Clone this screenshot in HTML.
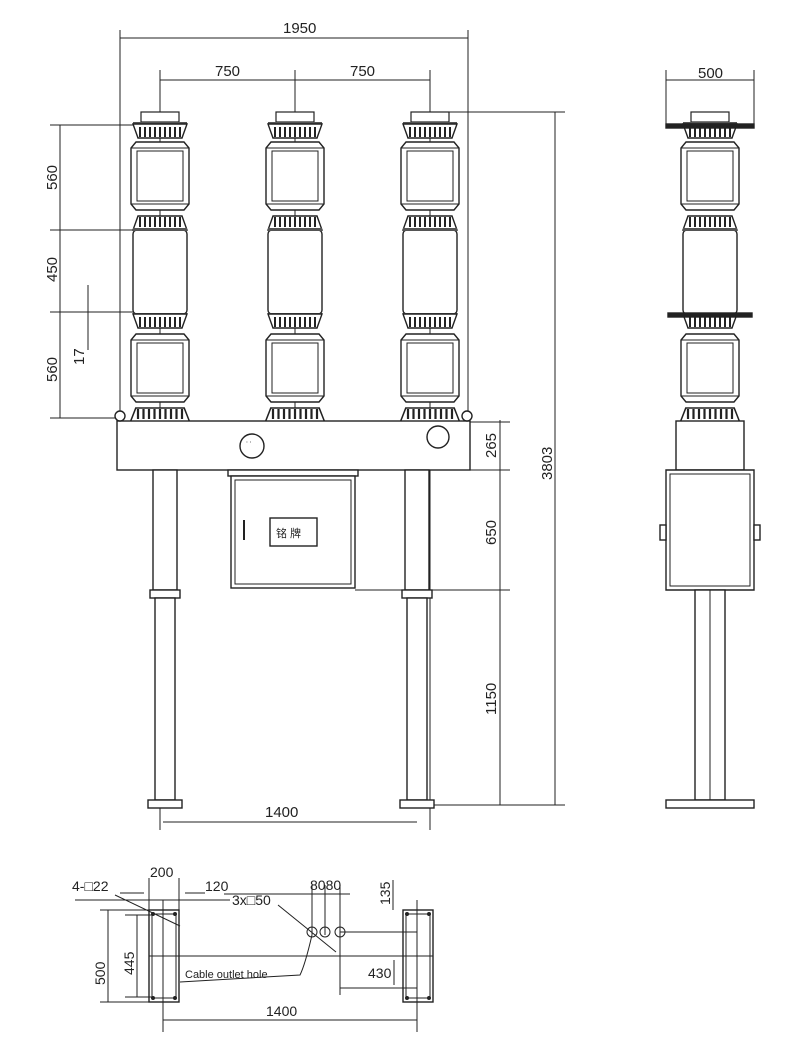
<!DOCTYPE html>
<html><head><meta charset="utf-8"><style>
html,body{margin:0;padding:0;background:#fff;}
svg{display:block;}
text{font-family:"Liberation Sans Narrow","Liberation Sans",sans-serif;fill:#222;}
</style></head><body>
<svg width="800" height="1054" viewBox="0 0 800 1054" xmlns="http://www.w3.org/2000/svg">
<defs>
<g id="flange">
<path d="M-27 0 L27 0 L22 14 L-22 14 Z" fill="#fff" stroke="#222" stroke-width="1.4"/>
<path d="M-20 3 V13 M-15 3 V13 M-10 3 V13 M-5 3 V13 M0 3 V13 M5 3 V13 M10 3 V13 M15 3 V13 M20 3 V13" stroke="#222" stroke-width="2"/>
</g>
<g id="box">
<path d="M-24 0 L24 0 L29 6 L29 62 L24 68 L-24 68 L-29 62 L-29 6 Z" fill="#fff" stroke="#222" stroke-width="1.4"/>
<rect x="-23" y="9" width="46" height="50" fill="none" stroke="#222" stroke-width="1"/>
<path d="M-29 6 H29 M-29 62 H29" stroke="#222" stroke-width="1"/>
</g>
<g id="pole">
<rect x="-19" y="0" width="38" height="10" fill="#fff" stroke="#222" stroke-width="1.2"/>
<path d="M-27 10 H27 L27 14 L-27 14Z" fill="#555"/>
<use href="#flange" y="12"/>
<use href="#box" y="30"/>
<use href="#flange" transform="translate(0,118) scale(1,-1)"/>
<rect x="-27" y="118" width="54" height="84" rx="4" fill="#fff" stroke="#222" stroke-width="1.4"/>
<path d="M-27 116 H27 V119 H-27Z M-27 201 H27 V204 H-27Z" fill="#555"/>
<use href="#flange" y="202"/>
<use href="#box" y="222"/>
<use href="#flange" transform="translate(0,310) scale(1.1,-1)"/>
</g>
</defs>
<g stroke="#222" stroke-width="1" fill="none">
<line x1="120" y1="38" x2="468" y2="38"/><line x1="120" y1="30" x2="120" y2="420"/><line x1="468" y1="30" x2="468" y2="420"/>
<line x1="160" y1="80" x2="430" y2="80"/>
<line x1="160" y1="70" x2="160" y2="830"/><line x1="295" y1="70" x2="295" y2="470"/><line x1="430" y1="70" x2="430" y2="830"/>
<line x1="60" y1="125" x2="60" y2="418"/>
<line x1="50" y1="125" x2="135" y2="125"/><line x1="50" y1="230" x2="135" y2="230"/><line x1="50" y1="312" x2="135" y2="312"/><line x1="50" y1="418" x2="120" y2="418"/>
<line x1="88" y1="285" x2="88" y2="350"/>
<line x1="500" y1="420" x2="500" y2="805"/><line x1="555" y1="112" x2="555" y2="805"/>
<line x1="440" y1="112" x2="565" y2="112"/>
<line x1="470" y1="422" x2="510" y2="422"/><line x1="470" y1="470" x2="510" y2="470"/>
<line x1="355" y1="590" x2="510" y2="590"/><line x1="430" y1="805" x2="565" y2="805"/>
<line x1="163" y1="822" x2="417" y2="822"/>
</g>
<g font-size="15">
<text x="283" y="33">1950</text>
<text x="215" y="76">750</text>
<text x="350" y="76">750</text>
<text x="265" y="817">1400</text>
<text transform="translate(57,190) rotate(-90)">560</text>
<text transform="translate(57,282) rotate(-90)">450</text>
<text transform="translate(57,382) rotate(-90)">560</text>
<text transform="translate(84,365) rotate(-90)">17</text>
<text transform="translate(496,458) rotate(-90)">265</text>
<text transform="translate(496,545) rotate(-90)">650</text>
<text transform="translate(496,715) rotate(-90)">1150</text>
<text transform="translate(552,480) rotate(-90)">3803</text>
<text x="698" y="78">500</text>
</g>
<use href="#pole" transform="translate(160,112)"/>
<use href="#pole" transform="translate(295,112)"/>
<use href="#pole" transform="translate(430,112)"/>
<g stroke="#222" stroke-width="1.4" fill="#fff">
<rect x="117" y="421" width="353" height="49"/>
<circle cx="120" cy="416" r="5"/><circle cx="467" cy="416" r="5"/>
<circle cx="252" cy="446" r="12"/><circle cx="438" cy="437" r="11"/>
<rect x="228" y="470" width="130" height="6"/>
<rect x="231" y="476" width="124" height="112"/>
<rect x="235" y="480" width="116" height="104" stroke-width="1"/>
<rect x="270" y="518" width="47" height="28"/>
<rect x="153" y="470" width="24" height="120"/>
<rect x="150" y="590" width="30" height="8"/>
<rect x="155" y="598" width="20" height="202"/>
<rect x="148" y="800" width="34" height="8"/>
<rect x="405" y="470" width="24" height="120"/>
<rect x="402" y="590" width="30" height="8"/>
<rect x="407" y="598" width="20" height="202"/>
<rect x="400" y="800" width="34" height="8"/>
</g>
<line x1="244" y1="520" x2="244" y2="540" stroke="#222" stroke-width="2"/>
<text x="276" y="537" font-size="11" font-family="'Noto Sans CJK SC',sans-serif">铭 牌</text>
<text x="246" y="444" font-size="6">⋅ ⋅</text>
<g stroke="#222" stroke-width="1" fill="none">
<line x1="666" y1="80" x2="754" y2="80"/><line x1="666" y1="70" x2="666" y2="128"/><line x1="754" y1="70" x2="754" y2="128"/>
</g>
<use href="#pole" transform="translate(710,112)"/>
<g stroke="#222" stroke-width="1.4" fill="#fff">
<rect x="666" y="124" width="88" height="4" fill="#222"/>
<rect x="668" y="313" width="84" height="4" fill="#222"/>
<rect x="676" y="421" width="68" height="49"/>
<path d="M666 470 H754 V590 H666 Z"/>
<rect x="670" y="474" width="80" height="112" stroke-width="1"/>
<rect x="660" y="525" width="6" height="15"/><rect x="754" y="525" width="6" height="15"/>
<rect x="695" y="590" width="30" height="210"/>
<line x1="710" y1="590" x2="710" y2="800" stroke-width="1"/>
<rect x="666" y="800" width="88" height="8"/>
</g>
<g stroke="#222" stroke-width="1" fill="none">
<rect x="149" y="910" width="30" height="92" stroke-width="1.4"/>
<rect x="152" y="914" width="24" height="84"/>
<rect x="403" y="910" width="30" height="92" stroke-width="1.4"/>
<rect x="406" y="914" width="24" height="84"/>
<line x1="149" y1="878" x2="149" y2="910"/><line x1="179" y1="878" x2="179" y2="910"/>
<line x1="163" y1="900" x2="163" y2="1032"/><line x1="417" y1="900" x2="417" y2="1032"/>
<line x1="163" y1="1020" x2="417" y2="1020"/>
<line x1="120" y1="893" x2="144" y2="893"/><line x1="185" y1="893" x2="205" y2="893"/>
<line x1="75" y1="900" x2="230" y2="900"/>
<line x1="100" y1="910" x2="149" y2="910"/><line x1="100" y1="1002" x2="149" y2="1002"/>
<line x1="108" y1="910" x2="108" y2="1002"/>
<line x1="125" y1="915" x2="152" y2="915"/><line x1="125" y1="997" x2="152" y2="997"/>
<line x1="137" y1="915" x2="137" y2="997"/>
<line x1="115" y1="895" x2="180" y2="926"/>
<line x1="224" y1="894" x2="350" y2="894"/>
<line x1="312" y1="885" x2="312" y2="935"/><line x1="325" y1="885" x2="325" y2="935"/><line x1="340" y1="885" x2="340" y2="995"/>
<line x1="278" y1="905" x2="336" y2="952"/>
<line x1="340" y1="932" x2="417" y2="932"/>
<line x1="149" y1="956" x2="433" y2="956"/>
<line x1="340" y1="988" x2="417" y2="988"/>
<line x1="393" y1="880" x2="393" y2="910"/>
<line x1="394" y1="960" x2="394" y2="985"/>
<path d="M312 935 Q305 965 300 975 L180 982"/>
<circle cx="312" cy="932" r="5"/><circle cx="325" cy="932" r="5"/><circle cx="340" cy="932" r="5"/>
</g>
<g fill="#222">
<circle cx="153" cy="914" r="2"/><circle cx="175" cy="914" r="2"/><circle cx="153" cy="998" r="2"/><circle cx="175" cy="998" r="2"/>
<circle cx="407" cy="914" r="2"/><circle cx="429" cy="914" r="2"/><circle cx="407" cy="998" r="2"/><circle cx="429" cy="998" r="2"/>
</g>
<g font-size="14">
<text x="150" y="877">200</text>
<text x="72" y="891">4-□22</text>
<text x="205" y="891">120</text>
<text x="232" y="905">3x□50</text>
<text x="310" y="890">8080</text>
<text transform="translate(390,905) rotate(-90)">135</text>
<text transform="translate(105,985) rotate(-90)">500</text>
<text transform="translate(134,975) rotate(-90)">445</text>
<text x="368" y="978">430</text>
<text x="266" y="1016">1400</text>
<text x="185" y="978" font-size="11" font-family="'Liberation Mono',monospace">Cable outlet hole</text>
</g>
</svg>
</body></html>
